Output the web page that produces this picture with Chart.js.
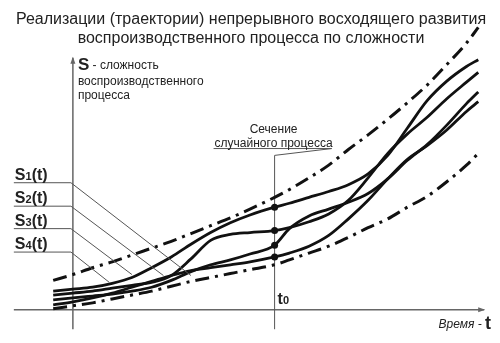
<!DOCTYPE html>
<html>
<head>
<meta charset="utf-8">
<script src="https://cdn.jsdelivr.net/npm/chart.js@4.4.0/dist/chart.umd.min.js"></script>
<style>
  body { margin: 0; background: #fff; }
  #wrap { width: 500px; height: 343px; position: relative; }
</style>
</head>
<body>
<div id="wrap"><canvas id="chart"></canvas></div>
<script>
// Time grid (t) and trajectory values S(t)
const times = [-1, 0, 1, 2, 3, 4, 5, 6, 7, 8, 9, 10.25, 11, 12, 13, 14, 15, 16, 17, 18, 19, 20, 20.6]
const sA = [0.95, 1.05, 1.15, 1.35, 1.65, 2.15, 2.7, 3.35, 3.95, 4.45, 4.85, 5.25, 5.45, 5.75, 6.05, 6.4, 6.95, 7.9, 9.3, 10.7, 11.7, 12.45, 12.8]
const sB = [0.75, 0.85, 0.95, 1.1, 1.25, 1.4, 1.75, 2.6, 3.55, 3.85, 3.95, 4.05, 4.2, 4.5, 4.9, 5.6, 6.75, 8.0, 9.0, 9.85, 10.8, 11.65, 12.15]
const sC = [0.5, 0.6, 0.7, 0.8, 0.95, 1.15, 1.5, 1.95, 2.3, 2.55, 2.85, 3.3, 4.15, 4.8, 5.15, 5.5, 5.95, 6.7, 7.65, 8.45, 9.45, 10.55, 11.15]
const sD = [0.25, 0.4, 0.6, 0.85, 1.15, 1.45, 1.75, 2.0, 2.15, 2.3, 2.45, 2.7, 2.9, 3.25, 3.8, 4.65, 5.6, 6.7, 7.7, 8.4, 9.2, 10.15, 10.65]
// Dash-dot envelope
const upperBound = [1.5, 1.8, 2.15, 2.45, 2.8, 3.15, 3.5, 3.9, 4.3, 4.7, 5.15, 5.75, 6.15, 6.75, 7.4, 8.2, 8.95, 9.75, 10.6, 11.5, 12.55, 13.65, 14.45]
const lowerBound = [0.05, 0.2, 0.35, 0.55, 0.75, 0.95, 1.2, 1.45, 1.65, 1.85, 2.05, 2.3, 2.55, 2.9, 3.25, 3.7, 4.2, 4.65, 5.25, 5.8, 6.55, 7.4, 8.0]

const t0 = 10.25
const t0Index = times.indexOf(t0)

// S1(t)..S4(t) labels: level of the label and the point its leader line goes to
const seriesNames = ['1', '2', '3', '4']
const labelLevels = [6.5, 5.3, 4.15, 2.95]
const labelTargets = [[6.0, 1.75], [4.6, 1.75], [3.0, 1.8], [1.85, 1.4]]

const titleLines = [
  'Реализации (траектории) непрерывного восходящего развития',
  'воспроизводственного процесса по сложности'
]

const toPoints = (ys) => times.map((t, i) => ({ x: t, y: ys[i] }))

const leaderSets = labelLevels.map((lv, i) => ({
  data: [{ x: -3, y: lv }, { x: -0.1, y: lv }, { x: labelTargets[i][0], y: labelTargets[i][1] }],
  borderColor: '#555',
  borderWidth: 1,
  pointRadius: 0,
  tension: 0,
  showLine: true
}))

const curve = (ys) => ({
  data: toPoints(ys),
  borderColor: '#111',
  borderWidth: 2.8,
  pointRadius: 0,
  cubicInterpolationMode: 'monotone',
  showLine: true
})

const bound = (ys) => ({
  data: toPoints(ys),
  borderColor: '#111',
  borderWidth: 3,
  borderDash: [14, 6, 3, 6],
  pointRadius: 0,
  cubicInterpolationMode: 'monotone',
  showLine: true
})

const sectionDots = {
  data: [sA, sB, sC, sD].map(ys => ({ x: t0, y: ys[t0Index] })),
  pointRadius: 3.5,
  pointBackgroundColor: '#111',
  pointBorderWidth: 0,
  showLine: false
}

// axes, t0 section and all the text
const decor = {
  id: 'decor',
  beforeDatasetsDraw(chart) {
    const { ctx, scales: { x, y } } = chart
    const px = v => x.getPixelForValue(v)
    const py = v => y.getPixelForValue(v)
    ctx.save()
    ctx.strokeStyle = '#666'
    ctx.fillStyle = '#666'
    ctx.lineWidth = 1.5
    ctx.beginPath()
    ctx.moveTo(px(-3), py(0)); ctx.lineTo(px(20.9), py(0))
    ctx.moveTo(px(0), py(-1)); ctx.lineTo(px(0), py(12.9))
    ctx.stroke()
    // arrow heads
    ctx.beginPath()
    ctx.moveTo(px(20.9) + 1, py(0)); ctx.lineTo(px(20.9) - 6, py(0) - 2.5); ctx.lineTo(px(20.9) - 6, py(0) + 2.5)
    ctx.fill()
    ctx.beginPath()
    ctx.moveTo(px(0), py(12.9) - 1); ctx.lineTo(px(0) - 2.5, py(12.9) + 6); ctx.lineTo(px(0) + 2.5, py(12.9) + 6)
    ctx.fill()
    // t0 section
    ctx.strokeStyle = '#555'
    ctx.lineWidth = 1
    ctx.beginPath()
    ctx.moveTo(px(t0), py(-1)); ctx.lineTo(px(t0), py(7.9)); ctx.lineTo(px(13.15), py(8.25))
    ctx.moveTo(px(7.15), py(8.25)); ctx.lineTo(px(13.15), py(8.25))
    ctx.stroke()
    ctx.restore()
  },
  afterDatasetsDraw(chart) {
    const { ctx, scales: { x, y } } = chart
    const px = v => x.getPixelForValue(v)
    const py = v => y.getPixelForValue(v)
    ctx.save()
    ctx.fillStyle = '#222'
    ctx.textBaseline = 'alphabetic'
    ctx.textAlign = 'center'
    ctx.font = '16px "Liberation Sans", Arial, sans-serif'
    ctx.fillText(titleLines[0], 251, 24)
    ctx.fillText(titleLines[1], 251, 43)

    ctx.font = '12px "Liberation Sans", Arial, sans-serif'
    ctx.fillText('Сечение', px(t0) - 1, py(8.25) - 16)
    ctx.fillText('случайного процесса', px(t0) - 1, py(8.25) - 2)

    ctx.textAlign = 'left'
    // y-axis caption
    ctx.font = 'bold 17px "Liberation Sans", Arial, sans-serif'
    ctx.fillText('S', px(0) + 5, 70)
    let w = ctx.measureText('S').width
    ctx.font = '12px "Liberation Sans", Arial, sans-serif'
    ctx.fillText(' - сложность', px(0) + 5 + w, 69)
    ctx.fillText('воспроизводственного', px(0) + 5, 85)
    ctx.fillText('процесса', px(0) + 5, 99)

    // x-axis caption
    ctx.textAlign = 'right'
    ctx.font = 'bold 18px "Liberation Sans", Arial, sans-serif'
    ctx.fillText('t', 491, 329)
    ctx.font = 'italic 12px "Liberation Sans", Arial, sans-serif'
    ctx.fillText('Время - ', 485, 328)

    // t0
    ctx.textAlign = 'left'
    ctx.font = 'bold 16px "Liberation Sans", Arial, sans-serif'
    ctx.fillText('t', px(t0) + 3, 304)
    w = ctx.measureText('t').width
    ctx.font = 'bold 11px "Liberation Sans", Arial, sans-serif'
    ctx.fillText('0', px(t0) + 3 + w, 304)

    // S1(t)..S4(t)
    labelLevels.forEach((lv, i) => {
      const base = py(lv) - 3
      let cx = px(-3) + 1
      ctx.font = 'bold 16px "Liberation Sans", Arial, sans-serif'
      ctx.fillText('S', cx, base)
      cx += ctx.measureText('S').width
      ctx.font = 'bold 11px "Liberation Sans", Arial, sans-serif'
      ctx.fillText(seriesNames[i], cx, base)
      cx += ctx.measureText(seriesNames[i]).width
      ctx.font = 'bold 16px "Liberation Sans", Arial, sans-serif'
      ctx.fillText('(t)', cx, base)
    })
    ctx.restore()
  }
}

new Chart(document.getElementById('chart'), {
  type: 'scatter',
  data: {
    datasets: [
      ...leaderSets,
      bound(upperBound),
      bound(lowerBound),
      curve(sA),
      curve(sB),
      curve(sC),
      curve(sD),
      sectionDots
    ]
  },
  options: {
    responsive: true,
    maintainAspectRatio: false,
    animation: false,
    layout: { padding: 0 },
    plugins: { legend: { display: false }, tooltip: { enabled: false } },
    scales: {
      x: { type: 'linear', min: -3.5, max: 21.5, display: false },
      y: { type: 'linear', min: -1.5, max: 15.65, display: false }
    }
  },
  plugins: [decor]
})
</script>
</body>
</html>
